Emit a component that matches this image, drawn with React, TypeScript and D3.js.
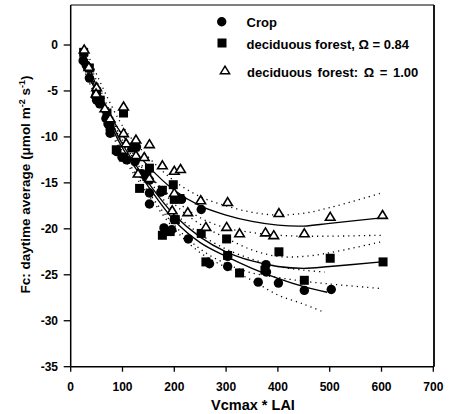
import React from "react";
import * as d3 from "d3";

type P = [number, number];

const xTicks = [0, 100, 200, 300, 400, 500, 600, 700];
const yTicks = [0, -5, -10, -15, -20, -25, -30, -35];

const legendLabels = ["Crop", "deciduous forest, \u03A9 = 0.84", "deciduous forest: \u03A9 = 1.00"];

const cropPts: P[] = [
  [24, -1.7], [30, -2.2], [36, -3.6], [48, -5.6], [50, -6], [56, -6.4], [68, -8], [72, -8.6], [76, -9.6],
  [89, -11.6], [99, -12.2], [108, -12.5], [127, -11.1], [124, -12.7], [137, -14], [152, -14.7],
  [152, -16.1], [152, -17.3], [174, -16], [180, -19.9], [195, -20.1], [200, -19], [214, -16.8],
  [227, -21.1], [252, -17.9], [268, -23.8], [303, -23], [303, -24.1], [362, -25.8], [377, -23.9],
  [378, -24.7], [401, -25.9], [451, -26.7], [503, -26.6],
];

const forest84Pts: P[] = [
  [25, -0.8], [36, -2.5], [50, -5.1], [57, -6], [70, -7.4], [76, -8.9], [102, -7.4], [88, -11.4],
  [102, -12.2], [118, -11.2], [124, -11.1], [133, -15.6], [147, -14.3], [152, -13.4], [177, -15.8],
  [198, -15.2], [200, -16.8], [211, -16.7], [177, -20.7], [202, -19], [192, -20.3], [252, -20.5],
  [261, -23.6], [301, -21.1], [303, -22.9], [326, -24.8], [375, -24.5], [402, -22.5], [451, -25.6],
  [501, -23.2], [603, -23.6],
];

const forest100Pts: P[] = [
  [26, -0.5], [35, -2.4], [50, -4.6], [49, -5.3], [66, -6.9], [76, -8], [102, -6.7], [102, -9.6],
  [107, -10.7], [126, -10.3], [152, -10.8], [126, -12], [142, -12.2], [130, -14], [152, -14.5],
  [177, -13.1], [200, -13.7], [212, -13.5], [200, -16.1], [196, -18], [226, -18.2], [251, -16.9],
  [261, -19.8], [303, -17.1], [301, -19.8], [326, -20.5], [376, -20.4], [392, -20.7], [402, -18.3],
  [451, -20.5], [501, -18.7], [602, -18.5],
];

const cropFit: P[] = [[25, -1.8], [50, -5.3], [75, -8.4], [100, -11.2], [150, -15.4], [200, -19.1], [250, -21.5], [300, -23.0], [350, -24.3], [400, -25.4], [450, -26.3], [495, -26.9]];
const forest84Fit: P[] = [[25, -1.2], [50, -5.0], [75, -8.0], [100, -10.8], [150, -15.0], [200, -18.5], [250, -20.9], [300, -22.5], [350, -23.5], [400, -24.1], [450, -24.3], [500, -24.1], [600, -23.6]];
const forest100Fit: P[] = [[25, -0.6], [50, -4.5], [75, -7.5], [100, -9.8], [150, -13.2], [200, -15.8], [250, -17.5], [300, -18.5], [350, -19.2], [400, -19.6], [450, -19.7], [500, -19.4], [600, -18.8]];

const bands: P[][] = [
  [[25, 0.0], [100, -8.8], [150, -12.2], [200, -14.8], [250, -16.5], [300, -17.5], [350, -18.2], [400, -18.5], [450, -18.3], [500, -17.7], [600, -16.1]],
  [[25, -1.3], [100, -10.6], [150, -14.1], [200, -16.8], [250, -18.8], [300, -19.9], [350, -20.4], [400, -20.7], [450, -20.8], [500, -20.8], [600, -20.7]],
  [[25, -0.5], [100, -10.0], [150, -14.0], [200, -17.3], [250, -19.5], [300, -21.0], [350, -22.3], [400, -23.0], [450, -23.0], [500, -22.6], [600, -21.4]],
  [[25, -2.0], [100, -11.6], [150, -16.0], [200, -19.6], [250, -22.2], [300, -23.8], [350, -24.8], [400, -25.3], [450, -25.7], [500, -26.0], [600, -26.5]],
  [[25, -1.0], [100, -10.4], [150, -14.6], [200, -18.2], [250, -20.6], [300, -22.2], [350, -23.3], [400, -24.1], [450, -24.5], [490, -24.7]],
  [[25, -2.6], [100, -12.0], [150, -16.3], [200, -20.0], [250, -22.6], [300, -24.2], [350, -25.6], [400, -27.2], [450, -28.2], [490, -29.1]],
];

const W = 451;
const H = 414;
const L = 70.7, R = 434, T = 5, B = 366.7;

export default function App() {
  const x = d3.scaleLinear().domain([0, 700]).range([L, 433.3]);
  const y = d3.scaleLinear().domain([-35, 0]).range([B, 45]);
  const line = d3.line<P>().x((d) => x(d[0])).y((d) => y(d[1])).curve(d3.curveCatmullRom.alpha(0.5));
  const font = "Liberation Sans, Arial, sans-serif";
  const tri = (cx: number, cy: number, s: number) =>
    `M${cx},${cy - s * 0.95} L${cx + s},${cy + s * 0.7} L${cx - s},${cy + s * 0.7} Z`;

  return (
    <svg width={W} height={H} style={{ position: "absolute", left: 0, top: 0, background: "#fff" }}>
      <rect x={0} y={0} width={W} height={H} fill="#fff" />
      {/* frame */}
      <line x1={L} y1={T} x2={R} y2={T} stroke="#000" strokeWidth={1.2} />
      <line x1={R} y1={T} x2={R} y2={B} stroke="#000" strokeWidth={1.8} />
      <line x1={L} y1={T} x2={L} y2={B} stroke="#000" strokeWidth={1.5} />
      <line x1={L} y1={B} x2={R} y2={B} stroke="#000" strokeWidth={1.5} />
      {xTicks.map((t) => (
        <g key={"xt" + t}>
          <line x1={x(t)} x2={x(t)} y1={B} y2={B + 5} stroke="#000" strokeWidth={1.3} />
          <text x={x(t)} y={391} textAnchor="middle" fontFamily={font} fontWeight="bold" fontSize={12}>{t}</text>
        </g>
      ))}
      {yTicks.map((t) => (
        <g key={"yt" + t}>
          <line x1={L - 7} x2={L} y1={y(t)} y2={y(t)} stroke="#000" strokeWidth={1.3} />
          <text x={58} y={y(t) + 4.3} textAnchor="end" fontFamily={font} fontWeight="bold" fontSize={12}>{t}</text>
        </g>
      ))}
      <text x={253} y={410} textAnchor="middle" fontFamily={font} fontWeight="bold" fontSize={14.5}>Vcmax * LAI</text>
      <text transform={`translate(29.5,${(72 + 297) / 2}) rotate(-90)`} textAnchor="middle" fontFamily={font} fontWeight="bold" fontSize={13.5}>
        Fc: daytime average  (<tspan>&#956;</tspan>mol m<tspan dy={-5} fontSize={9}>-2</tspan><tspan dy={5}> s</tspan><tspan dy={-5} fontSize={9}>-1</tspan><tspan dy={5}>)</tspan>
      </text>
      {/* bands */}
      {bands.map((b, i) => (
        <path key={"b" + i} d={line(b) || ""} fill="none" stroke="#000" strokeWidth={1.3} strokeDasharray="1.2 4" />
      ))}
      {[cropFit, forest84Fit, forest100Fit].map((f, i) => (
        <path key={"f" + i} d={line(f) || ""} fill="none" stroke="#000" strokeWidth={1.3} />
      ))}
      {forest84Pts.map((p, i) => (
        <rect key={"s" + i} x={x(p[0]) - 4.5} y={y(p[1]) - 4.5} width={9} height={9} fill="#000" />
      ))}
      {cropPts.map((p, i) => (
        <circle key={"c" + i} cx={x(p[0])} cy={y(p[1])} r={4.7} fill="#000" />
      ))}
      {forest100Pts.map((p, i) => (
        <path key={"t" + i} d={tri(x(p[0]), y(p[1]), 4.8)} fill="#fff" stroke="#000" strokeWidth={1.6} />
      ))}
      {/* legend */}
      <circle cx={221.7} cy={21.7} r={4.7} fill="#000" />
      <rect x={217.5} y={38.5} width={9} height={9} fill="#000" />
      <path d={tri(225, 70.5, 4.6)} fill="#fff" stroke="#000" strokeWidth={1.5} />
      <text x={246.5} y={26.5} fontFamily={font} fontWeight="bold" fontSize={13}>{legendLabels[0]}</text>
      <text x={246.5} y={48.5} fontFamily={font} fontWeight="bold" fontSize={13}>{legendLabels[1]}</text>
      <text x={247} y={77} fontFamily={font} fontWeight="bold" fontSize={13} wordSpacing={2}>{legendLabels[2]}</text>
    </svg>
  );
}
